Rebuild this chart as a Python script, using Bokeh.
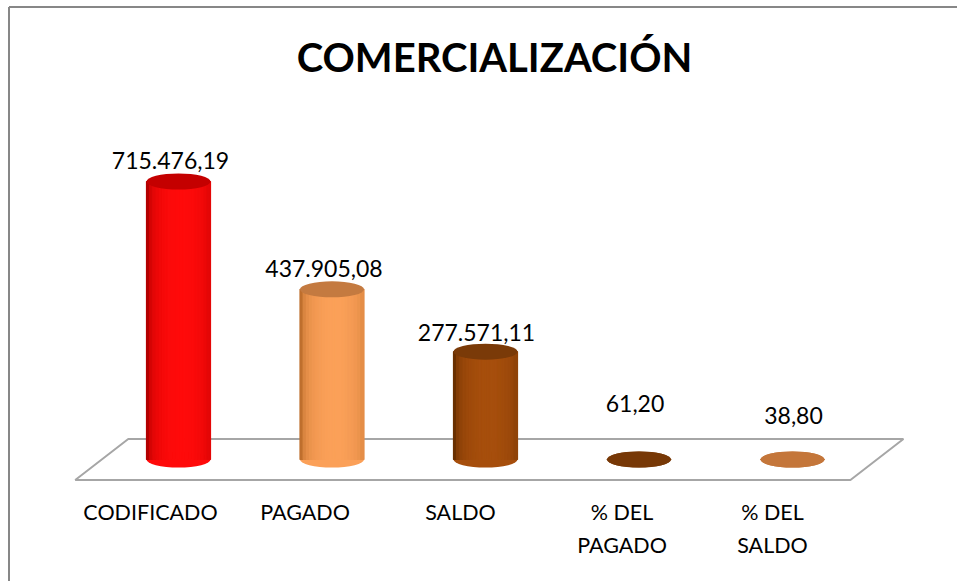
from bokeh.plotting import figure
from bokeh.models import Range1d, Label
from bokeh.core.properties import value
from bokeh.embed import file_html
from bokeh.resources import INLINE

# ---------------- data ----------------
categories = ["CODIFICADO", "PAGADO", "SALDO", "% DEL\nPAGADO", "% DEL\nSALDO"]
values = [715476.19, 437905.08, 277571.11, 61.20, 38.80]
title_text = "COMERCIALIZACIÓN"


def es_fmt(v):
    s = f"{v:,.2f}"
    return s.replace(",", "X").replace(".", ",").replace("X", ".")


value_labels = [es_fmt(v) for v in values]

# ---------------- style ----------------
body_center = ["#ff0a0a", "#fba058", "#a64e0c", "#7a3a06", "#c4763a"]
body_edge = ["#b30000", "#bf6f2d", "#6a3000", "#7a3a06", "#c4763a"]
top_color = ["#c40000", "#c47a40", "#7a3a08", "#773806", "#c4763a"]
label_dx = [-8, -8, -9, -4, 1]
label_dy = [-21, -21, -19, -56, -44]
cat_dx = [-28, -27, -25, -17, -20]

W, H = 957, 581
PX_PER_CAT = 153.5
X0_PX = 178          # px of first category from left of frame
BASE_PX = 122        # px of baseline from bottom of frame
MAX_PX = 400         # px of the tallest bar top from bottom
CYL_PX = 64          # cylinder width in px
ELL_PX = 16          # ellipse height in px

units_per_px = max(values) / (MAX_PX - BASE_PX)
xs = -X0_PX / PX_PER_CAT
xe = xs + W / PX_PER_CAT
ys = -BASE_PX * units_per_px
ye = ys + H * units_per_px

p = figure(width=W, height=H, output_backend="svg", toolbar_location=None,
           x_range=Range1d(xs, xe), y_range=Range1d(ys, ye),
           x_axis_type=None, y_axis_type=None, min_border=0,
           outline_line_color=None, background_fill_color="white",
           border_fill_color="white")
p.grid.visible = False

n = len(categories)
idx = list(range(n))

# chart border (left and top edges visible in the crop)
bx = xs + 8.5 / PX_PER_CAT
by = ye - 6.5 * units_per_px
p.segment(x0=[bx, bx], y0=[by, by], x1=[xe, bx], y1=[by, ys],
          line_color="#878787", line_width=2)

# floor (3D base plane)
dx = 26.5 / PX_PER_CAT
dy = 20.5 * units_per_px
fx = [-0.5 + dx, n - 0.45 + dx, n - 0.45 - dx, -0.5 - dx]
fy = [dy, dy, -dy, -dy]
p.patch(fx, fy, fill_color=None, line_color="#a6a6a6", line_width=2)


def hex2rgb(h):
    h = h.lstrip("#")
    return tuple(int(h[i:i + 2], 16) for i in (0, 2, 4))


def mix(a, b, t):
    ra, rb = hex2rgb(a), hex2rgb(b)
    return "#%02x%02x%02x" % tuple(int(round(ra[k] + (rb[k] - ra[k]) * t)) for k in range(3))


cw = CYL_PX / PX_PER_CAT

# bottom ellipses
p.ellipse(x=idx, y=[0] * n, width=cw, height=ELL_PX, height_units="screen",
          fill_color=body_center, line_color=None)

# cylinder bodies as shaded strips
N = 20
sx, stop, scol = [], [], []
for i in range(n):
    for k in range(N):
        t = -1 + (2 * k + 1) / N
        s = max(0.0, 1 - (t - 0.1) ** 2) ** 0.35
        sx.append(i - cw / 2 + (k + 0.5) * cw / N)
        stop.append(values[i])
        scol.append(mix(body_edge[i], body_center[i], s))
p.vbar(x=sx, top=stop, bottom=0, width=cw / N, fill_color=scol,
       line_color=scol, line_width=1.2)

# top ellipses
p.ellipse(x=idx, y=values, width=cw, height=ELL_PX, height_units="screen",
          fill_color=top_color, line_color=None)

# value labels
p.text(x=idx, y=values, text=value_labels, x_offset=label_dx, y_offset=label_dy,
       text_align="center", text_baseline="middle", text_font=value("Lato"),
       text_font_size="23px", text_color="#000000")

# category labels
p.text(x=idx, y=[0] * n, text=categories, x_offset=cat_dx, y_offset=[39] * n,
       text_align="center", text_baseline="top", text_font=value("Lato"),
       text_font_size="21.5px", text_line_height=1.3, text_color="#000000")

# title
p.add_layout(Label(x=494, y=525, x_units="screen", y_units="screen", text=title_text,
                   text_align="center", text_baseline="middle", text_font="Lato",
                   text_font_size="40px", text_font_style="bold", text_color="#000000"))

open("out.html", "w").write(file_html(p, INLINE))
